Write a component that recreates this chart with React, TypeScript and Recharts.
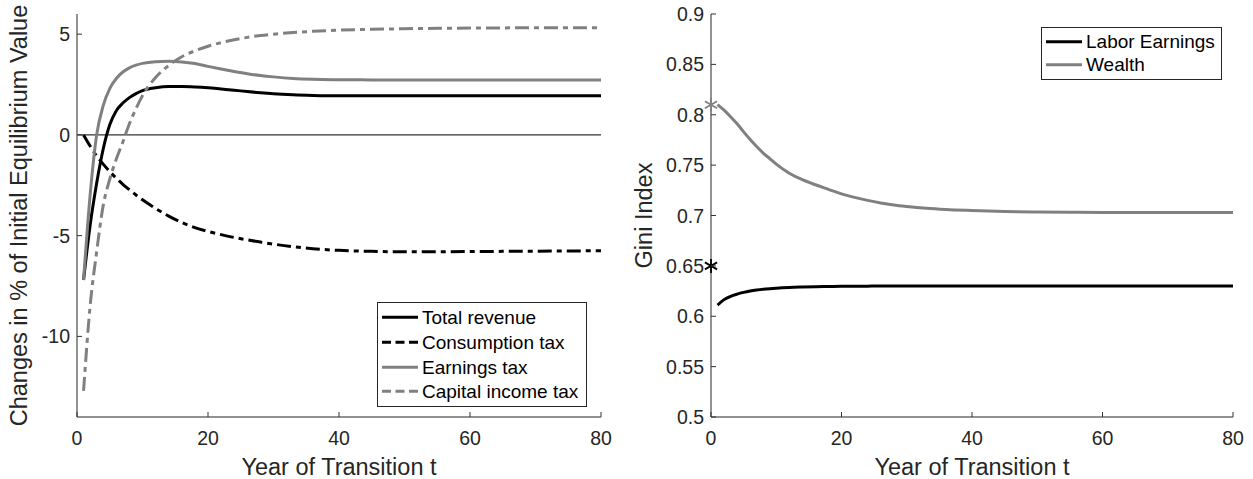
import React from "react";
import {
  ComposedChart,
  Line,
  Scatter,
  XAxis,
  YAxis,
  ReferenceLine,
  Legend,
  Label,
} from "recharts";

// transition years (series start at t = 1)
const years = [1, 2, 3, 4, 5, 6, 7, 8, 9, 10, 12, 14, 16, 18, 20, 22, 24, 26, 28, 30, 33, 36, 40, 45, 50, 55, 60, 65, 70, 75, 80];

// left panel: changes in % of initial equilibrium value
const totalRevenue = [-7.2, -4.5, -2.4, -0.7, 0.5, 1.2, 1.58, 1.85, 2.05, 2.2, 2.34, 2.4, 2.4, 2.38, 2.34, 2.28, 2.22, 2.15, 2.09, 2.04, 1.99, 1.96, 1.94, 1.94, 1.94, 1.94, 1.94, 1.94, 1.94, 1.94, 1.94];
const consumptionTax = [0, -0.55, -1.05, -1.45, -1.82, -2.15, -2.45, -2.72, -2.98, -3.22, -3.65, -4.03, -4.35, -4.6, -4.79, -4.95, -5.09, -5.21, -5.32, -5.42, -5.55, -5.65, -5.73, -5.78, -5.8, -5.8, -5.79, -5.78, -5.77, -5.76, -5.75];
const earningsTax = [-7.2, -3.0, 0.0, 1.45, 2.3, 2.8, 3.12, 3.33, 3.46, 3.55, 3.63, 3.65, 3.62, 3.54, 3.4, 3.27, 3.15, 3.04, 2.95, 2.88, 2.8, 2.76, 2.74, 2.73, 2.73, 2.73, 2.73, 2.73, 2.73, 2.73, 2.73];
const capitalIncomeTax = [-12.7, -8.5, -5.8, -3.5, -2.2, -1.2, -0.35, 0.55, 1.3, 1.95, 2.85, 3.45, 3.88, 4.17, 4.4, 4.58, 4.72, 4.84, 4.93, 5.0, 5.08, 5.14, 5.2, 5.24, 5.27, 5.29, 5.3, 5.31, 5.32, 5.32, 5.32];

// right panel: Gini index
const laborGini = [0.611, 0.6165, 0.6198, 0.622, 0.6237, 0.625, 0.626, 0.6268, 0.6274, 0.6279, 0.6286, 0.629, 0.6293, 0.6295, 0.6297, 0.6298, 0.6299, 0.63, 0.63, 0.63, 0.63, 0.63, 0.63, 0.63, 0.63, 0.63, 0.63, 0.63, 0.63, 0.63, 0.63];
const wealthGini = [0.81, 0.8045, 0.798, 0.791, 0.783, 0.7755, 0.7685, 0.762, 0.7565, 0.751, 0.742, 0.7355, 0.7305, 0.726, 0.7215, 0.718, 0.715, 0.7125, 0.7105, 0.709, 0.7072, 0.706, 0.705, 0.704, 0.7035, 0.7032, 0.703, 0.703, 0.703, 0.703, 0.703];
const initialLaborGini = [0.65];
const initialWealthGini = [0.81];
const initialYear = [0];

const xTicks = [0, 20, 40, 60, 80];
const leftYTicks = [-10, -5, 0, 5];
const rightYTicks = [0.5, 0.55, 0.6, 0.65, 0.7, 0.75, 0.8, 0.85, 0.9];

const FONT = '"Liberation Sans", Arial, Helvetica, sans-serif';
const TEXT = "#262626";
const AXIS_DARK = "#333";
const AXIS_LIGHT = "#6e6e6e";
const BLACK = "#000000";
const GRAY = "#808080";
const DASHDOT = "14 5 5 5";
const LEGEND_DASH = "9 4.5";

const leftRows = years.map((t, i) => ({
  t,
  total: totalRevenue[i],
  consumption: consumptionTax[i],
  earnings: earningsTax[i],
  capital: capitalIncomeTax[i],
}));

const rightRows = years.map((t, i) => ({ t, labor: laborGini[i], wealth: wealthGini[i] }));
const laborStar = initialYear.map((t, i) => ({ t, v: initialLaborGini[i] }));
const wealthStar = initialYear.map((t, i) => ({ t, v: initialWealthGini[i] }));

const leftSeries = [
  { key: "total", name: "Total revenue", color: BLACK, dash: undefined, legendDash: undefined },
  { key: "consumption", name: "Consumption tax", color: BLACK, dash: DASHDOT, legendDash: LEGEND_DASH },
  { key: "earnings", name: "Earnings tax", color: GRAY, dash: undefined, legendDash: undefined },
  { key: "capital", name: "Capital income tax", color: GRAY, dash: DASHDOT, legendDash: LEGEND_DASH },
];

const rightSeries = [
  { key: "labor", name: "Labor Earnings", color: BLACK, dash: undefined, legendDash: undefined },
  { key: "wealth", name: "Wealth", color: GRAY, dash: undefined, legendDash: undefined },
];

const LeftTick = (p: any) => (
  <g>
    <line x1={p.x} y1={p.y} x2={p.x + 5} y2={p.y} stroke={AXIS_DARK} />
    <text x={p.x - 7} y={p.y + 7} textAnchor="end" fontSize={19.5} fill={TEXT} fontFamily={FONT}>
      {String(p.payload.value)}
    </text>
  </g>
);

const BottomTick = (p: any) => (
  <g>
    <line x1={p.x} y1={p.y} x2={p.x} y2={p.y - 5} stroke={AXIS_DARK} />
    <text x={p.x} y={p.y + 28} textAnchor="middle" fontSize={19.5} fill={TEXT} fontFamily={FONT}>
      {String(p.payload.value)}
    </text>
  </g>
);

const TopTick = (p: any) => <line x1={p.x} y1={p.y} x2={p.x} y2={p.y + 5} stroke={AXIS_DARK} />;
const RightTick = (p: any) => <line x1={p.x} y1={p.y} x2={p.x - 5} y2={p.y} stroke={AXIS_DARK} />;

const Asterisk = (p: any) => {
  const { cx, cy, color } = p;
  const r = 7;
  const d = r * 0.87;
  const h = r * 0.5;
  return (
    <g stroke={color} strokeWidth={1.8}>
      <line x1={cx} y1={cy - r} x2={cx} y2={cy + r} />
      <line x1={cx - d} y1={cy - h} x2={cx + d} y2={cy + h} />
      <line x1={cx - d} y1={cy + h} x2={cx + d} y2={cy - h} />
    </g>
  );
};

const LegendBox = ({ items, width, rowH, padTop }: any) => (
  <div
    style={{
      border: `1px solid ${TEXT}`,
      background: "#fff",
      width,
      boxSizing: "border-box",
      paddingTop: padTop,
      paddingBottom: padTop,
      fontFamily: FONT,
      fontSize: 19,
      color: BLACK,
    }}
  >
    {items.map((it: any) => (
      <div key={it.key} style={{ display: "flex", alignItems: "center", height: rowH }}>
        <svg width={44} height={rowH} style={{ flex: "none" }}>
          <line x1={4} x2={40} y1={rowH / 2} y2={rowH / 2} stroke={it.color} strokeWidth={3} strokeDasharray={it.legendDash} />
        </svg>
        <span style={{ whiteSpace: "nowrap", lineHeight: 1 }}>{it.name}</span>
      </div>
    ))}
  </div>
);

const xTitle = (props: any) => {
  const vb = props.viewBox || {};
  return (
    <text x={vb.x + vb.width / 2} y={vb.y + 58} textAnchor="middle" fontSize={23.5} fill={TEXT} fontFamily={FONT}>
      Year of Transition t
    </text>
  );
};

const yTitle = (text: string, baseX: number) => (props: any) => {
  const vb = props.viewBox || {};
  const cy = vb.y + vb.height / 2;
  return (
    <text
      x={baseX}
      y={cy}
      transform={`rotate(-90 ${baseX} ${cy})`}
      textAnchor="middle"
      fontSize={23.5}
      fill={TEXT}
      fontFamily={FONT}
    >
      {text}
    </text>
  );
};

export default function App() {
  return (
    <div style={{ position: "absolute", left: 0, top: 0, width: 1253, height: 479, background: "#fff" }}>
      <div style={{ position: "absolute", left: 0, top: 0 }}>
        <ComposedChart width={620} height={479} data={leftRows} margin={{ top: 14, right: 19, bottom: 0, left: 0 }}>
          <XAxis
            dataKey="t"
            type="number"
            domain={[0, 80]}
            ticks={xTicks}
            interval={0}
            height={62}
            tickLine={false}
            tickSize={0}
            tickMargin={0}
            axisLine={{ stroke: AXIS_LIGHT, strokeWidth: 1.5 }}
            tick={(p: any) => <BottomTick {...p} />}
          >
            <Label content={xTitle} />
          </XAxis>
          <XAxis
            xAxisId="top"
            orientation="top"
            type="number"
            domain={[0, 80]}
            ticks={xTicks}
            interval={0}
            height={0}
            tickLine={false}
            tickSize={0}
            tickMargin={0}
            axisLine={{ stroke: AXIS_DARK }}
            tick={(p: any) => <TopTick {...p} />}
          />
          <YAxis
            type="number"
            domain={[-14, 6]}
            ticks={leftYTicks}
            interval={0}
            width={77}
            tickLine={false}
            tickSize={0}
            tickMargin={0}
            axisLine={{ stroke: AXIS_LIGHT, strokeWidth: 1.5 }}
            tick={(p: any) => <LeftTick {...p} />}
          >
            <Label content={yTitle("Changes in % of Initial Equilibrium Value", 27)} />
          </YAxis>
          <YAxis
            yAxisId="right"
            orientation="right"
            type="number"
            domain={[-14, 6]}
            ticks={leftYTicks}
            interval={0}
            width={0}
            tickLine={false}
            tickSize={0}
            tickMargin={0}
            axisLine={{ stroke: AXIS_DARK }}
            tick={(p: any) => <RightTick {...p} />}
          />
          <ReferenceLine y={0} stroke={AXIS_DARK} strokeWidth={1.2} />
          {leftSeries.map((s) => (
            <Line
              key={s.key}
              dataKey={s.key}
              name={s.name}
              type="monotone"
              stroke={s.color}
              strokeWidth={3}
              strokeDasharray={s.dash}
              dot={false}
              activeDot={false}
              isAnimationActive={false}
            />
          ))}
          <Legend
            layout="vertical"
            align="center"
            verticalAlign="middle"
            wrapperStyle={{ left: 377, top: 302, width: 210 }}
            content={() => <LegendBox items={leftSeries} width={210} rowH={24.7} padTop={2.3} />}
          />
        </ComposedChart>
      </div>

      <div style={{ position: "absolute", left: 620, top: 0 }}>
        <ComposedChart width={633} height={479} data={rightRows} margin={{ top: 14, right: 20, bottom: 0, left: 0 }}>
          <XAxis
            dataKey="t"
            type="number"
            domain={[0, 80]}
            ticks={xTicks}
            interval={0}
            height={62}
            tickLine={false}
            tickSize={0}
            tickMargin={0}
            axisLine={{ stroke: AXIS_LIGHT, strokeWidth: 1.5 }}
            tick={(p: any) => <BottomTick {...p} />}
          >
            <Label content={xTitle} />
          </XAxis>
          <XAxis
            xAxisId="top"
            orientation="top"
            type="number"
            domain={[0, 80]}
            ticks={xTicks}
            interval={0}
            height={0}
            tickLine={false}
            tickSize={0}
            tickMargin={0}
            axisLine={{ stroke: AXIS_DARK }}
            tick={(p: any) => <TopTick {...p} />}
          />
          <YAxis
            type="number"
            domain={[0.5, 0.9]}
            ticks={rightYTicks}
            interval={0}
            width={91}
            tickLine={false}
            tickSize={0}
            tickMargin={0}
            axisLine={{ stroke: AXIS_LIGHT, strokeWidth: 1.5 }}
            tick={(p: any) => <LeftTick {...p} />}
          >
            <Label content={yTitle("Gini Index", 32)} />
          </YAxis>
          <YAxis
            yAxisId="right"
            orientation="right"
            type="number"
            domain={[0.5, 0.9]}
            ticks={rightYTicks}
            interval={0}
            width={0}
            tickLine={false}
            tickSize={0}
            tickMargin={0}
            axisLine={{ stroke: AXIS_DARK }}
            tick={(p: any) => <RightTick {...p} />}
          />
          {rightSeries.map((s) => (
            <Line
              key={s.key}
              dataKey={s.key}
              name={s.name}
              type="monotone"
              stroke={s.color}
              strokeWidth={3}
              dot={false}
              activeDot={false}
              isAnimationActive={false}
            />
          ))}
          <Scatter
            data={laborStar}
            dataKey="v"
            isAnimationActive={false}
            shape={(p: any) => <Asterisk {...p} color={BLACK} />}
          />
          <Scatter
            data={wealthStar}
            dataKey="v"
            isAnimationActive={false}
            shape={(p: any) => <Asterisk {...p} color={GRAY} />}
          />
          <Legend
            layout="vertical"
            align="center"
            verticalAlign="middle"
            wrapperStyle={{ left: 421, top: 27, width: 181 }}
            content={() => <LegendBox items={rightSeries} width={181} rowH={23.3} padTop={2} />}
          />
        </ComposedChart>
      </div>
    </div>
  );
}
